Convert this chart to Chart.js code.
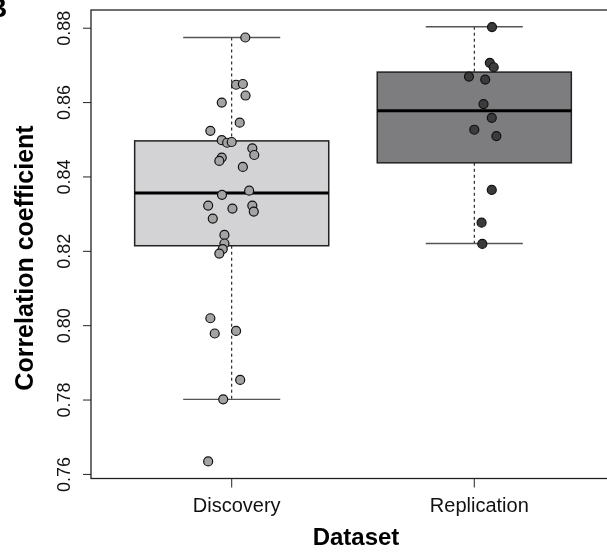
<!DOCTYPE html>
<html>
<head>
<meta charset="utf-8">
<script src="https://cdn.jsdelivr.net/npm/chart.js@4/dist/chart.umd.min.js"></script>
<style>
  html, body { margin: 0; padding: 0; background: #fff; overflow: hidden; }
  #wrap { width: 607px; height: 554px; overflow: hidden; position: relative; }
  canvas { display: block; }
</style>
</head>
<body>
<div id="wrap"><canvas id="chart" width="625" height="554"></canvas></div>
<script>
// categories and tick labels
const categories = ['Discovery', 'Replication'];
const yTicks = [0.76, 0.78, 0.80, 0.82, 0.84, 0.86, 0.88];

// box statistics: lower whisker, Q1, median, Q3, upper whisker
const whiskerLow = [0.7802, 0.8221];
const quartile1 = [0.8215, 0.8438];
const medians = [0.8357, 0.8578];
const quartile3 = [0.8497, 0.8682];
const whiskerHigh = [0.8775, 0.8804];

// jittered points (x position along category axis, value)
const discoveryX = [1.056, 1.018, 1.046, 1.057, 0.959, 1.033, 0.912, 0.959, 0.981, 1.000, 1.085, 1.093,
  0.959, 0.949, 1.046, 1.072, 0.960, 0.903, 1.085, 1.003, 1.091, 0.922, 0.970, 0.970, 0.963, 0.949,
  0.912, 0.930, 1.018, 1.035, 0.965, 0.903];
const discoveryValues = [0.8775, 0.8648, 0.8650, 0.8619, 0.8600, 0.8546, 0.8524, 0.8499, 0.8492, 0.8494, 0.8477, 0.8459,
  0.8452, 0.8443, 0.8427, 0.8363, 0.8352, 0.8323, 0.8323, 0.8315, 0.8307, 0.8288, 0.8244, 0.8221, 0.8206, 0.8194,
  0.8020, 0.7979, 0.7986, 0.7854, 0.7802, 0.7635];
const replicationX = [2.073, 2.064, 2.080, 1.978, 2.045, 2.038, 2.072, 2.000, 2.091, 2.072, 2.030, 2.033];
const replicationValues = [0.8803, 0.8707, 0.8695, 0.8670, 0.8662, 0.8596, 0.8559, 0.8527, 0.8510, 0.8365, 0.8277, 0.8220];

const boxFill = ['#d3d3d5', '#7d7d80'];
const pointFill = ['#a3a3a3', '#3b3b3b'];

// draws boxes, whiskers, frame, ticks and titles (R boxplot look)
const boxPlugin = {
  id: 'boxPlugin',
  beforeDatasetsDraw(chart) {
    const { ctx, chartArea, scales } = chart;
    const x = scales.x, y = scales.y;
    ctx.save();
    categories.forEach((cat, i) => {
      const c = i + 1;
      const xl = x.getPixelForValue(c - 0.4), xr = x.getPixelForValue(c + 0.4);
      const cl = x.getPixelForValue(c - 0.2), cr = x.getPixelForValue(c + 0.2);
      const xc = x.getPixelForValue(c);

      // dashed whisker line
      ctx.strokeStyle = '#000';
      ctx.lineWidth = 1;
      ctx.setLineDash([3, 3]);
      ctx.beginPath();
      ctx.moveTo(xc, y.getPixelForValue(whiskerHigh[i]));
      ctx.lineTo(xc, y.getPixelForValue(quartile3[i]));
      ctx.moveTo(xc, y.getPixelForValue(quartile1[i]));
      ctx.lineTo(xc, y.getPixelForValue(whiskerLow[i]));
      ctx.stroke();
      ctx.setLineDash([]);

      // staples
      ctx.strokeStyle = '#555';
      ctx.lineWidth = 1.3;
      ctx.beginPath();
      ctx.moveTo(cl, y.getPixelForValue(whiskerHigh[i]));
      ctx.lineTo(cr, y.getPixelForValue(whiskerHigh[i]));
      ctx.moveTo(cl, y.getPixelForValue(whiskerLow[i]));
      ctx.lineTo(cr, y.getPixelForValue(whiskerLow[i]));
      ctx.stroke();

      // box
      const yt = y.getPixelForValue(quartile3[i]), yb = y.getPixelForValue(quartile1[i]);
      ctx.fillStyle = boxFill[i];
      ctx.fillRect(xl, yt, xr - xl, yb - yt);
      ctx.strokeStyle = '#222';
      ctx.lineWidth = 1.5;
      ctx.strokeRect(xl, yt, xr - xl, yb - yt);

      // median
      ctx.strokeStyle = '#000';
      ctx.lineWidth = 3;
      ctx.beginPath();
      ctx.moveTo(xl, y.getPixelForValue(medians[i]));
      ctx.lineTo(xr, y.getPixelForValue(medians[i]));
      ctx.stroke();
    });
    ctx.restore();
  },
  afterDraw(chart) {
    const { ctx, chartArea, scales } = chart;
    const x = scales.x, y = scales.y;
    ctx.save();
    // frame
    ctx.strokeStyle = '#222';
    ctx.lineWidth = 1.3;
    ctx.strokeRect(chartArea.left, chartArea.top, chartArea.right - chartArea.left, chartArea.bottom - chartArea.top);

    // y ticks + rotated labels
    ctx.fillStyle = '#111';
    ctx.lineWidth = 1;
    ctx.font = '18px "Liberation Sans", Arial, sans-serif';
    ctx.textAlign = 'center';
    ctx.textBaseline = 'alphabetic';
    yTicks.forEach(t => {
      const py = y.getPixelForValue(t);
      ctx.beginPath();
      ctx.moveTo(chartArea.left - 8, py);
      ctx.lineTo(chartArea.left, py);
      ctx.stroke();
      ctx.save();
      ctx.translate(70, py);
      ctx.rotate(-Math.PI / 2);
      ctx.fillText(t.toFixed(2), 0, 0);
      ctx.restore();
    });

    // x ticks + labels
    ctx.font = '20px "Liberation Sans", Arial, sans-serif';
    categories.forEach((cat, i) => {
      const px = x.getPixelForValue(i + 1);
      ctx.beginPath();
      ctx.moveTo(px, chartArea.bottom);
      ctx.lineTo(px, chartArea.bottom + 9);
      ctx.stroke();
      ctx.fillText(cat, px + 5, 512);
    });

    // axis titles
    ctx.font = 'bold 24px "Liberation Sans", Arial, sans-serif';
    ctx.fillStyle = '#000';
    ctx.fillText('Dataset', 356, 545);
    ctx.save();
    ctx.translate(33, 258);
    ctx.rotate(-Math.PI / 2);
    ctx.font = 'bold 25px "Liberation Sans", Arial, sans-serif';
    ctx.fillText('Correlation coefficient', 0, 0);
    ctx.restore();

    // panel letter (cropped at the corner)
    ctx.font = 'bold 28px "Liberation Sans", Arial, sans-serif';
    ctx.textAlign = 'left';
    ctx.fillText('B', -13, 17);
    ctx.restore();
  }
};

const toPoints = (xs, vs) => xs.map((v, i) => ({ x: v, y: vs[i] }));

new Chart(document.getElementById('chart'), {
  type: 'scatter',
  data: {
    datasets: [
      {
        label: categories[0],
        data: toPoints(discoveryX, discoveryValues),
        backgroundColor: pointFill[0],
        borderColor: '#111',
        borderWidth: 1.2,
        pointRadius: 4.5
      },
      {
        label: categories[1],
        data: toPoints(replicationX, replicationValues),
        backgroundColor: pointFill[1],
        borderColor: '#111',
        borderWidth: 1.2,
        pointRadius: 4.5
      }
    ]
  },
  options: {
    responsive: false,
    animation: false,
    layout: { padding: { left: 91, top: 10, right: 10, bottom: 75.5 } },
    plugins: { legend: { display: false }, tooltip: { enabled: false } },
    scales: {
      x: { type: 'linear', min: 0.42, max: 2.58, display: false },
      y: { type: 'linear', min: 0.7589, max: 0.8849, display: false }
    }
  },
  plugins: [boxPlugin]
});
</script>
</body>
</html>
